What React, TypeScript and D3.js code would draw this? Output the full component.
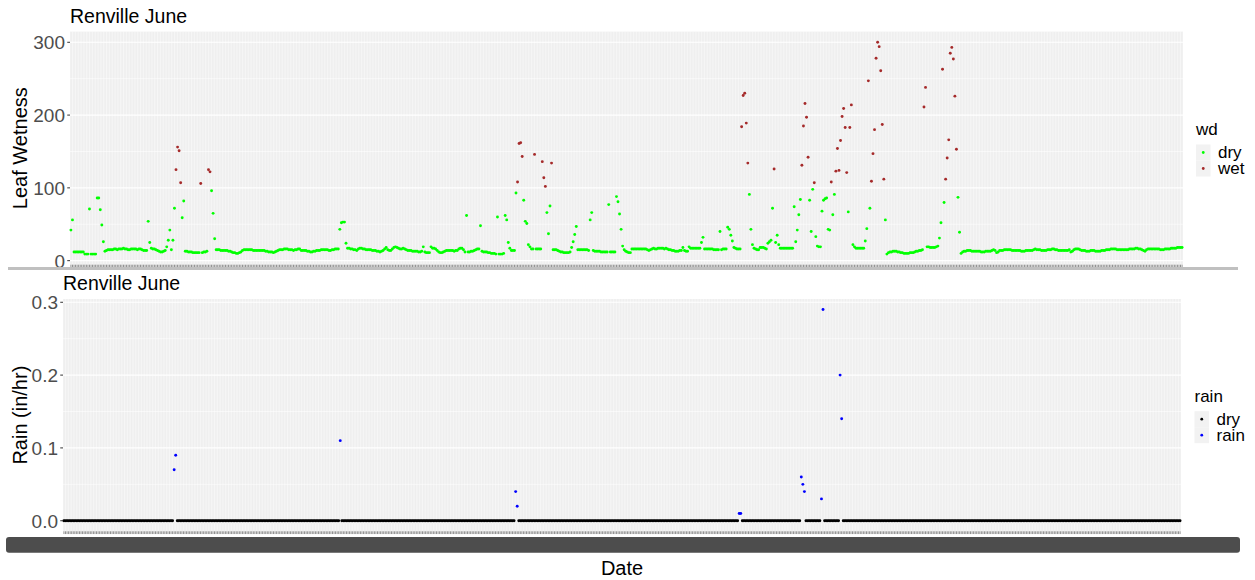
import React from 'react';
import * as d3 from 'd3';

const W = 1255;
const H = 580;
const FONT = '"Liberation Sans", Arial, Helvetica, sans-serif';

// hourly leaf wetness readings, June 1-30 (one row per day, 24 hours)
const leafWetness = [
  42, 56, 12, 12, 12, 12, 12, 12, 12, 9, 9, 9, 71, 9, 9, 9, 9, 86, 86, 70, 49, 26, 13, 14,
  15, 15, 15, 15, 16, 16, 15, 16, 16, 16, 17, 16, 16, 15, 15, 16, 16, 16, 16, 15, 16, 16, 15, 14,
  14, 14, 54, 25, 17, 16, 16, 15, 14, 13, 12, 12, 13, 14, 19, 28, 42, 15, 28, 72, 125, 156, 151, 107,
  59, 82, 13, 13, 12, 12, 12, 11, 11, 11, 11, 11, 106, 11, 12, 12, 13, 125, 122, 96, 65, 30, 15, 15,
  15, 14, 14, 14, 14, 14, 13, 13, 12, 11, 11, 10, 10, 11, 12, 14, 15, 15, 15, 15, 15, 15, 14, 14,
  14, 14, 14, 14, 14, 14, 13, 13, 12, 12, 12, 11, 12, 13, 14, 15, 15, 15, 16, 16, 16, 15, 15, 15,
  14, 15, 15, 16, 16, 14, 14, 14, 14, 13, 13, 12, 12, 13, 13, 14, 14, 14, 15, 15, 15, 15, 15, 14,
  14, 15, 15, 16, 16, 16, 43, 52, 53, 53, 24, 17, 17, 16, 16, 15, 15, 14, 16, 17, 17, 16, 16, 15,
  15, 15, 15, 14, 14, 14, 13, 13, 12, 13, 14, 16, 18, 15, 14, 14, 16, 18, 19, 18, 17, 16, 16, 17,
  16, 15, 14, 14, 14, 13, 13, 13, 13, 12, 12, 13, 19, 12, 11, 11, 11, 19, 17, 17, 16, 14, 12, 11,
  11, 12, 13, 14, 14, 14, 14, 14, 13, 14, 14, 16, 17, 17, 15, 12, 62, 12, 12, 13, 13, 14, 15, 16,
  16, 48, 13, 12, 12, 12, 11, 11, 10, 10, 10, 9, 60, 9, 9, 9, 10, 62, 56, 25, 17, 14, 14, 14,
  93, 108, 161, 162, 143, 83, 54, 51, 22, 19, 16, 16, 146, 16, 16, 16, 16, 136, 114, 102, 66, 37, 75, 134,
  15, 15, 15, 14, 13, 12, 12, 11, 11, 11, 11, 12, 18, 26, 36, 47, 15, 15, 15, 15, 15, 15, 15, 14,
  56, 66, 14, 13, 13, 13, 13, 12, 12, 12, 12, 12, 77, 12, 12, 12, 12, 88, 81, 64, 43, 20, 15, 13,
  12, 11, 11, 16, 16, 16, 16, 16, 16, 16, 16, 16, 16, 15, 14, 15, 16, 17, 16, 16, 17, 17, 17, 17,
  16, 17, 16, 15, 15, 14, 14, 13, 13, 13, 14, 14, 18, 14, 13, 13, 19, 17, 17, 17, 17, 17, 17, 17,
  25, 32, 16, 16, 16, 16, 16, 16, 15, 15, 15, 15, 40, 15, 16, 16, 16, 46, 43, 35, 27, 18, 17, 16,
  16, 16, 184, 227, 230, 189, 134, 91, 43, 22, 17, 16, 15, 15, 18, 18, 18, 17, 16, 24, 26, 28, 72, 126,
  25, 35, 22, 17, 17, 17, 17, 17, 17, 17, 17, 17, 74, 26, 42, 63, 84, 131, 185, 216, 197, 142, 83, 40,
  98, 107, 33, 20, 19, 19, 68, 83, 85, 86, 43, 42, 108, 63, 91, 123, 154, 124, 165, 198, 209, 183, 121, 67,
  183, 214, 22, 19, 17, 17, 17, 17, 17, 17, 27, 44, 247, 72, 109, 147, 180, 278, 300, 294, 261, 187, 112, 56,
  9, 11, 12, 12, 13, 13, 13, 12, 12, 11, 11, 10, 10, 10, 10, 11, 11, 11, 12, 13, 13, 14, 14, 15,
  211, 238, 19, 19, 18, 18, 18, 18, 19, 20, 31, 52, 263, 80, 112, 141, 166, 285, 293, 277, 226, 153, 87, 39,
  10, 12, 13, 13, 14, 14, 14, 13, 13, 13, 13, 13, 13, 12, 12, 12, 13, 13, 13, 13, 14, 15, 14, 11,
  12, 14, 14, 14, 15, 15, 15, 15, 15, 14, 14, 14, 14, 14, 14, 13, 13, 13, 14, 14, 14, 14, 14, 15,
  16, 15, 15, 15, 14, 14, 14, 14, 15, 15, 15, 16, 16, 15, 15, 14, 14, 14, 14, 14, 14, 14, 15, 12,
  13, 15, 16, 16, 16, 15, 14, 14, 14, 13, 13, 13, 14, 14, 14, 13, 13, 13, 13, 14, 14, 14, 15, 15,
  15, 16, 16, 16, 16, 15, 15, 15, 15, 15, 15, 15, 15, 16, 16, 16, 16, 17, 17, 16, 16, 15, 14, 13,
  15, 16, 16, 16, 16, 16, 16, 16, 16, 15, 15, 15, 16, 16, 16, 16, 17, 17, 17, 17, 18, 18, 18, 18,
];

// hours (index into the month) with measurable rain, and the amount in in/hr
const rainHours = [71, 72, 178, 291, 292, 435, 436, 475, 476, 477, 488, 489, 500, 501];
const rainAmounts = [0.07, 0.09, 0.11, 0.04, 0.02, 0.01, 0.01, 0.06, 0.05, 0.04, 0.03, 0.29, 0.2, 0.14];

const leafTicks = [0, 100, 200, 300];
const leafMinor = [50, 150, 250];
const rainTicks = [0, 0.1, 0.2, 0.3];
const rainMinor = [0.05, 0.15, 0.25];

const wdLevels = ['dry', 'wet'];
const wdColors = ['#00FF00', '#A52A2A'];
const rainLevels = ['dry', 'rain'];
const rainColors = ['#000000', '#0000FF'];
const WET_LIMIT = 100;

interface PanelProps {
  left: number;
  right: number;
  top: number;
  bottom: number;
  values: number[];
  keep: (i: number) => boolean;
  colorOf: (i: number) => string;
  ticks: number[];
  minor: number[];
  fmt: (v: number) => string;
  title: string;
  yTitle: string;
  legendTitle: string;
  legendLevels: string[];
  legendColors: string[];
  legendX: number;
  legendY: number;
}

const Panel: React.FC<PanelProps> = (p) => {
  const n = p.values.length;
  const hours = d3.range(n);
  const x = d3.scalePoint<number>().domain(hours).range([p.left, p.right]).padding(0.6);
  const [lo, hi] = d3.extent(p.values) as [number, number];
  const pad = (hi - lo) * 0.05;
  const y = d3.scaleLinear().domain([lo - pad, hi + pad]).range([p.bottom, p.top]);
  const w = p.right - p.left;
  const h = p.bottom - p.top;
  const midY = (p.top + p.bottom) / 2;

  return (
    <g>
      <text x={p.left} y={p.top - 9} fontSize={19.5} fill="#000">{p.title}</text>
      <rect x={p.left} y={p.top} width={w} height={h} fill="#EBEBEB" />
      {p.minor.map((t) => (
        <line key={'m' + t} x1={p.left} x2={p.right} y1={y(t)} y2={y(t)} stroke="#fff" strokeWidth={0.55} />
      ))}
      {p.ticks.map((t) => (
        <line key={'g' + t} x1={p.left} x2={p.right} y1={y(t)} y2={y(t)} stroke="#fff" strokeWidth={1.1} />
      ))}
      {hours.map((i) => (
        <line key={'v' + i} x1={x(i)} x2={x(i)} y1={p.top} y2={p.bottom} stroke="#fff" strokeWidth={0.55} />
      ))}
      {hours.filter(p.keep).map((i) => (
        <circle key={'p' + i} cx={x(i)} cy={y(p.values[i])} r={1.45} fill={p.colorOf(i)} />
      ))}
      {/* x tick marks */}
      {hours.map((i) => (
        <line key={'t' + i} x1={x(i)} x2={x(i)} y1={p.bottom} y2={p.bottom + 2.75} stroke="#333" strokeWidth={0.55} />
      ))}
      {p.ticks.map((t) => (
        <g key={'yt' + t}>
          <line x1={p.left - 2.75} x2={p.left} y1={y(t)} y2={y(t)} stroke="#333" strokeWidth={1} />
          <text x={p.left - 5} y={y(t)} dy="0.36em" textAnchor="end" fontSize={19} fill="#4D4D4D">
            {p.fmt(t)}
          </text>
        </g>
      ))}
      <text transform={`translate(27,${midY}) rotate(-90)`} textAnchor="middle" fontSize={20} fill="#000">
        {p.yTitle}
      </text>
      {/* legend */}
      <text x={p.legendX} y={p.legendY} fontSize={17} fill="#000">{p.legendTitle}</text>
      {p.legendLevels.map((lv, k) => {
        const ky = p.legendY + 9.5 + k * 16;
        return (
          <g key={lv}>
            <rect x={p.legendX} y={ky} width={14.5} height={16} fill="#F2F2F2" />
            <circle cx={p.legendX + 7.25} cy={ky + 8} r={1.4} fill={p.legendColors[k]} />
            <text x={p.legendX + 22} y={ky + 13.8} fontSize={17} fill="#000">{lv}</text>
          </g>
        );
      })}
    </g>
  );
};

const App: React.FC = () => {
  const rainByHour = new Map<number, number>();
  rainHours.forEach((hr, k) => rainByHour.set(hr, rainAmounts[k]));
  const rain = leafWetness.map((_, i) => rainByHour.get(i) ?? 0);

  return (
    <svg
      width={W}
      height={H}
      style={{ position: 'absolute', left: 0, top: 0, background: '#fff', fontFamily: FONT }}
    >
      <Panel
        left={70}
        right={1183}
        top={31.7}
        bottom={264.7}
        values={leafWetness}
        keep={() => true}
        colorOf={(i) => (leafWetness[i] > WET_LIMIT ? wdColors[1] : wdColors[0])}
        ticks={leafTicks}
        minor={leafMinor}
        fmt={(v) => String(v)}
        title="Renville June"
        yTitle="Leaf Wetness"
        legendTitle="wd"
        legendLevels={wdLevels}
        legendColors={wdColors}
        legendX={1196}
        legendY={135}
      />
      {/* overlapped x labels of the upper plot */}
      <rect x={8} y={267} width={1230} height={3} fill="#C0C0C0" />
      <Panel
        left={63}
        right={1181}
        top={299}
        bottom={531.3}
        values={rain}
        keep={() => true}
        colorOf={(i) => (rain[i] > 0 ? rainColors[1] : rainColors[0])}
        ticks={rainTicks}
        minor={rainMinor}
        fmt={(v) => v.toFixed(1)}
        title="Renville June"
        yTitle="Rain (in/hr)"
        legendTitle="rain"
        legendLevels={rainLevels}
        legendColors={rainColors}
        legendX={1194.5}
        legendY={401.7}
      />
      {/* overlapped date labels of the lower plot */}
      <rect x={6} y={537} width={1234} height={15.7} rx={3} fill="#4D4D4D" />
      <text x={622} y={574.5} textAnchor="middle" fontSize={20} fill="#000">Date</text>
    </svg>
  );
};

export default App;
